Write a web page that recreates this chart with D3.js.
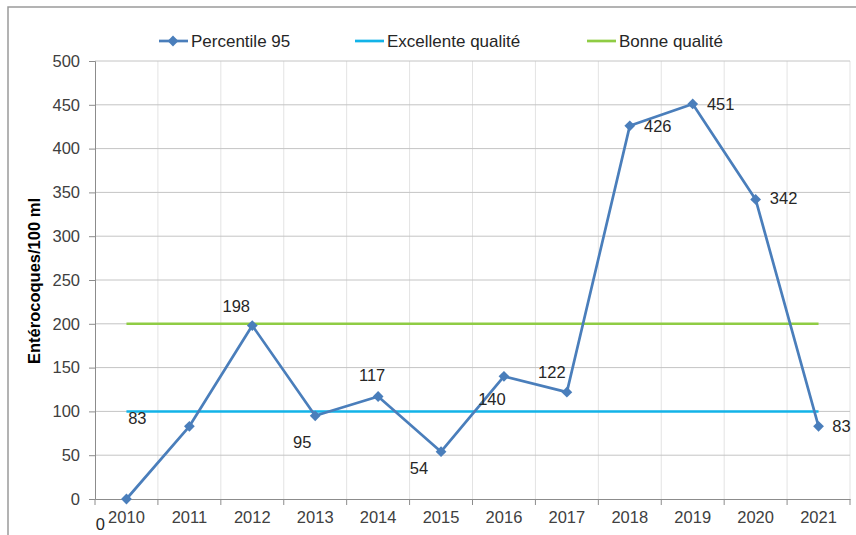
<!DOCTYPE html>
<html><head><meta charset="utf-8">
<script src="https://cdn.jsdelivr.net/npm/d3@7"></script>
<style>
body{margin:0;background:#fff;}
svg{display:block;font-family:"Liberation Sans",Arial,sans-serif;}
</style></head>
<body><svg id="c" width="856" height="535"></svg>
<script>
const years = ["2010","2011","2012","2013","2014","2015","2016","2017","2018","2019","2020","2021"];
const percentile95 = [0,83,198,95,117,54,140,122,426,451,342,83];
const excellente = 100;
const bonne = 200;
const yTicks = [0,50,100,150,200,250,300,350,400,450,500];
const seriesNames = ["Percentile 95","Excellente qualité","Bonne qualité"];
// label offsets (style)
const labelOffsets = [[-26,25],[-52,-8],[-16,-20],[-13,26],[-6,-22],[-22,16],[-12,23],[-15,-20],[28,0],[28,0],[28,-1],[23,0]];

const colors = {p:"#4a7ebb", ex:"#12b3e8", bo:"#8fcc44"};
const svg = d3.select("#c");
const L=95, R=850, T=61, B=499;
const FS = 16.5;

// outer border
svg.append("path").attr("d","M8,535 L8,7 L856,7").attr("fill","none").attr("stroke","#9a9a9a").attr("stroke-width",1.5);

const x = d3.scaleBand().domain(years).range([L,R]);
const y = d3.scaleLinear().domain([0,500]).range([B,T]);
const cx = d => x(d)+x.bandwidth()/2;

// vertical gridlines
const bounds = years.map(d=>x(d)).concat([R]);
svg.append("g").selectAll("line").data(bounds.slice(1)).join("line")
  .attr("x1",d=>d).attr("x2",d=>d).attr("y1",T).attr("y2",B)
  .attr("stroke","#e3e3e3").attr("stroke-width",1);
// horizontal gridlines
svg.append("g").selectAll("line").data(yTicks.slice(1)).join("line")
  .attr("x1",L).attr("x2",R).attr("y1",d=>y(d)).attr("y2",d=>y(d))
  .attr("stroke","#c4c4c4").attr("stroke-width",1);

// y axis
const ya = svg.append("g").attr("transform",`translate(${L},0)`)
  .call(d3.axisLeft(y).tickValues(yTicks).tickSize(6).tickPadding(9));
ya.select(".domain").attr("stroke","#8c8c8c");
ya.selectAll(".tick line").attr("stroke","#8c8c8c");
ya.selectAll("text").attr("font-size",FS).attr("fill","#404040").attr("font-family","Liberation Sans, Arial, sans-serif");

// x axis
const xa = svg.append("g").attr("transform",`translate(0,${B})`)
  .call(d3.axisBottom(x).tickSize(0).tickPadding(12));
xa.select(".domain").attr("stroke","#8c8c8c");
xa.selectAll("text").attr("font-size",FS).attr("fill","#404040").attr("font-family","Liberation Sans, Arial, sans-serif");
svg.append("g").selectAll("line").data(bounds).join("line")
  .attr("x1",d=>d).attr("x2",d=>d).attr("y1",B).attr("y2",B+6)
  .attr("stroke","#8c8c8c");

// reference lines
const first = cx(years[0]), last = cx(years[years.length-1]);
svg.append("line").attr("x1",first).attr("x2",last).attr("y1",y(bonne)).attr("y2",y(bonne))
  .attr("stroke",colors.bo).attr("stroke-width",2.5);
svg.append("line").attr("x1",first).attr("x2",last).attr("y1",y(excellente)).attr("y2",y(excellente))
  .attr("stroke",colors.ex).attr("stroke-width",2.5);

// series line
const line = d3.line().x((d,i)=>cx(years[i])).y(d=>y(d));
svg.append("path").datum(percentile95).attr("d",line).attr("fill","none")
  .attr("stroke",colors.p).attr("stroke-width",2.7).attr("stroke-linejoin","round");
svg.append("g").selectAll("path").data(percentile95).join("path")
  .attr("d", d3.symbol().type(d3.symbolSquare).size(58))
  .attr("transform",(d,i)=>`translate(${cx(years[i])},${y(d)}) rotate(45)`)
  .attr("fill",colors.p);

// data labels
svg.append("g").selectAll("text").data(percentile95).join("text")
  .attr("x",(d,i)=>cx(years[i])+labelOffsets[i][0])
  .attr("y",(d,i)=>y(d)+labelOffsets[i][1])
  .attr("text-anchor","middle").attr("dominant-baseline","central")
  .attr("font-size",FS).attr("fill","#262626").text(d=>d);

// y title
svg.append("text").attr("transform","translate(34,281) rotate(-90)")
  .attr("text-anchor","middle").attr("dominant-baseline","central")
  .attr("font-size",16.5).attr("font-weight","bold").attr("fill","#000")
  .text("Entérocoques/100 ml");

// legend
const legX = [159,355,587];
const legColors = [colors.p, colors.ex, colors.bo];
const lg = svg.append("g");
seriesNames.forEach((n,i)=>{
  lg.append("line").attr("x1",legX[i]).attr("x2",legX[i]+29).attr("y1",41).attr("y2",41)
    .attr("stroke",legColors[i]).attr("stroke-width",2.7);
  if(i===0) lg.append("path").attr("d",d3.symbol().type(d3.symbolSquare).size(58)())
    .attr("transform",`translate(${legX[i]+14},41) rotate(45)`).attr("fill",colors.p);
  lg.append("text").attr("x",legX[i]+32).attr("y",41).attr("dominant-baseline","central")
    .attr("font-size",17).attr("fill","#262626").text(n);
});
</script></body></html>
